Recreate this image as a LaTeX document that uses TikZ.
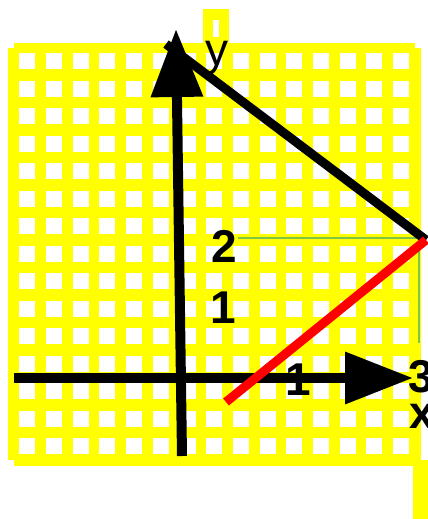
\documentclass[tikz,border=0pt]{standalone}
\usepackage{fontspec}
\setmainfont{Liberation Sans}
\usepackage{tikz}
\usetikzlibrary{arrows.meta}
\definecolor{gpyellow}{RGB}{255,255,0}
\definecolor{gpgreen}{RGB}{130,195,65}
\definecolor{gpred}{RGB}{255,0,0}

\begin{document}
\begin{tikzpicture}[
  x=1pt, y=-1pt,
  axis/.style={line width=10pt, -{Triangle[length=68pt, width=50pt]}},
  edge/.style={line width=9pt},
  guide/.style={gpgreen, line width=2.5pt},
  lbl/.style={anchor=base, inner sep=0pt, font=\fontsize{46}{50}\selectfont\bfseries}
]
  \useasboundingbox (0,0) rectangle (428,519);
  % grid paper
  \fill[gpyellow] (14,43) rectangle (415,466);
  \fill[gpyellow] (8,48) rectangle (421,460);
  \fill[gpyellow] (203,9) rectangle (229,48);
  \fill[white] (213,20) rectangle (219,37);
  \fill[gpyellow] (413,460) rectangle (428,519);
  \foreach \i in {0,...,14}
    \foreach \j in {0,...,14}
      \fill[white] ({19.3+26.7*\i},{53.3+27.5*\j}) rectangle ++(16,16);

  \coordinate (yfoot) at (182,456);
  \coordinate (ytip) at (176,29);
  \coordinate (xfoot) at (14,378);
  \coordinate (xtip) at (413,378);
  \coordinate (corner) at (426,240);
  \coordinate (top) at (166,44);
  \coordinate (low) at (226,402);
  \coordinate (yproj) at (238,238);
  \coordinate (gc) at (419,238);
  \coordinate (xproj) at (419,343);

  \draw[guide] (yproj) -- (gc) -- (xproj);
  \draw[axis] (yfoot) -- (ytip);
  \draw[axis] (xfoot) -- (xtip);
  \draw[edge] (top) -- (corner);
  \draw[edge, gpred] (low) -- (corner);

  \node[lbl] (ytwo) at (224,262) {2};
  \node[lbl] (yone) at (223,323) {1};
  \node[lbl] (xone) at (298,395) {1};
  \node[lbl] (xthree) at (421,392) {3};
  \node[lbl] (xname) at (422,428) {x};
  \node[lbl, font=\fontsize{46}{50}\selectfont] (yname) at (217,66) {y};
\end{tikzpicture}
\end{document}
